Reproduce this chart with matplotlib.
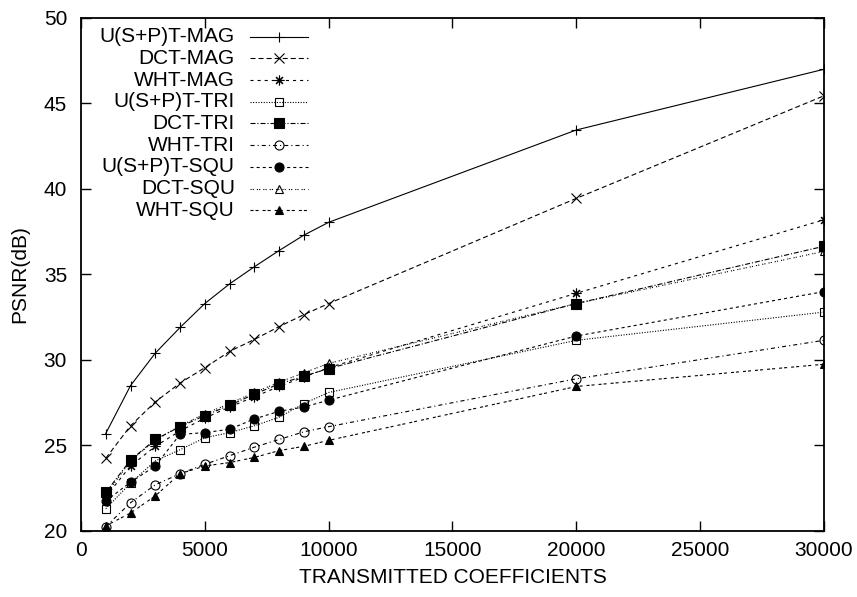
import numpy as np
import matplotlib
matplotlib.use("Agg")
import matplotlib.pyplot as plt
from matplotlib.lines import Line2D

plt.rcParams['font.family'] = ['Liberation Sans', 'DejaVu Sans']
plt.rcParams['lines.scale_dashes'] = False

# coeficientes transmitidos
coefs = [1000, 2000, 3000, 4000, 5000, 6000, 7000, 8000, 9000, 10000, 20000, 30000]

# PSNR (dB) por transformada y mascara
usp_mag = [25.7, 28.5, 30.4, 31.9, 33.3, 34.45, 35.45, 36.4, 37.3, 38.05, 43.45, 47.0]
dct_mag = [24.25, 26.15, 27.55, 28.65, 29.55, 30.5, 31.2, 31.95, 32.65, 33.3, 39.45, 45.45]
wht_mag = [22.0, 23.8, 24.95, 25.85, 26.6, 27.25, 27.85, 28.45, 29.0, 29.55, 33.9, 38.2]
usp_tri = [21.3, 22.8, 24.1, 24.75, 25.45, 25.75, 26.15, 26.65, 27.45, 28.1, 31.15, 32.8]
dct_tri = [22.25, 24.15, 25.35, 26.1, 26.75, 27.35, 28.0, 28.6, 29.05, 29.5, 33.3, 36.65]
wht_tri = [20.25, 21.65, 22.7, 23.35, 23.9, 24.4, 24.9, 25.35, 25.8, 26.1, 28.9, 31.15]
usp_squ = [21.75, 22.85, 23.8, 25.65, 25.75, 25.95, 26.55, 27.0, 27.25, 27.65, 31.4, 34.0]
dct_squ = [22.1, 24.1, 25.3, 26.15, 26.85, 27.45, 28.1, 28.7, 29.25, 29.8, 33.3, 36.35]
wht_squ = [20.3, 21.05, 22.05, 23.35, 23.8, 24.0, 24.3, 24.7, 24.95, 25.3, 28.45, 29.75]

etiquetas = ['U(S+P)T-MAG', 'DCT-MAG', 'WHT-MAG',
             'U(S+P)T-TRI', 'DCT-TRI', 'WHT-TRI',
             'U(S+P)T-SQU', 'DCT-SQU', 'WHT-SQU']
series = [usp_mag, dct_mag, wht_mag, usp_tri, dct_tri, wht_tri,
          usp_squ, dct_squ, wht_squ]

# estilo tipo gnuplot: (marcador, tamano, relleno, guiones)
asterisco = (8, 2, 0)
estilos = [
    ('+', 7.5, 'k', '-'),
    ('x', 7, 'k', (0, (3.6, 2.2))),
    (asterisco, 7, 'k', (0, (2.2, 2.9))),
    ('s', 6, 'none', (0, (0.8, 1.1))),
    ('s', 6.5, 'k', (0, (3.6, 1.4, 0.8, 1.4))),
    ('o', 6.5, 'none', (0, (2.9, 2.2, 0.8, 2.2))),
    ('o', 6.5, 'k', (0, (2.2, 2.2))),
    ('^', 6, 'none', (0, (0.8, 0.8, 0.8, 2.2))),
    ('^', 6, 'k', (0, (2.2, 1.4, 2.2, 2.9))),
]

fig = plt.figure(figsize=(8.57, 5.97), dpi=100)
ax = fig.add_axes([0.0945, 0.1106, 0.867, 0.8593])

for y, (mk, ms, fc, ls) in zip(series, estilos):
    ax.plot(coefs, y, color='k', lw=0.8, linestyle=ls, marker=mk,
            markersize=ms, markerfacecolor=fc, markeredgecolor='k',
            markeredgewidth=0.8)

ax.set_xlim(0, 30000)
ax.set_ylim(20, 50)
ax.set_xticks(np.arange(0, 30001, 5000))
ax.set_yticks(np.arange(20, 51, 5))
ax.tick_params(direction='in', top=True, right=True, length=7, width=1,
               labelsize=15)
ax.tick_params(axis='x', pad=7)
ax.tick_params(axis='y', pad=10)
for s in ax.spines.values():
    s.set_linewidth(1.3)

ax.set_xlabel('TRANSMITTED COEFFICIENTS', fontsize=15)
ax.set_ylabel('PSNR(dB)', fontsize=15)
ax.xaxis.set_label_coords(0.5, -0.09)
ax.xaxis.label.set_va('center')
ax.yaxis.set_label_coords(-0.083, 0.5)
ax.yaxis.label.set_va('center')

# leyenda al estilo gnuplot: texto a la izquierda, muestra a la derecha
x_txt, x0, x1 = 0.207, 0.2275, 0.3055
y_top, paso = 0.9635, 0.0423
for i, (lab, (mk, ms, fc, ls)) in enumerate(zip(etiquetas, estilos)):
    yy = y_top - i * paso
    ax.text(x_txt, yy, lab, transform=ax.transAxes, ha='right', va='center',
            fontsize=15)
    ax.add_line(Line2D([x0, x1], [yy, yy], transform=ax.transAxes,
                       color='k', lw=0.8, linestyle=ls))
    ax.add_line(Line2D([(x0 + x1) / 2], [yy], transform=ax.transAxes,
                       color='k', marker=mk, markersize=ms,
                       markerfacecolor=fc, markeredgecolor='k',
                       markeredgewidth=0.8, linestyle='none'))

fig.savefig('out.png', dpi=100)
